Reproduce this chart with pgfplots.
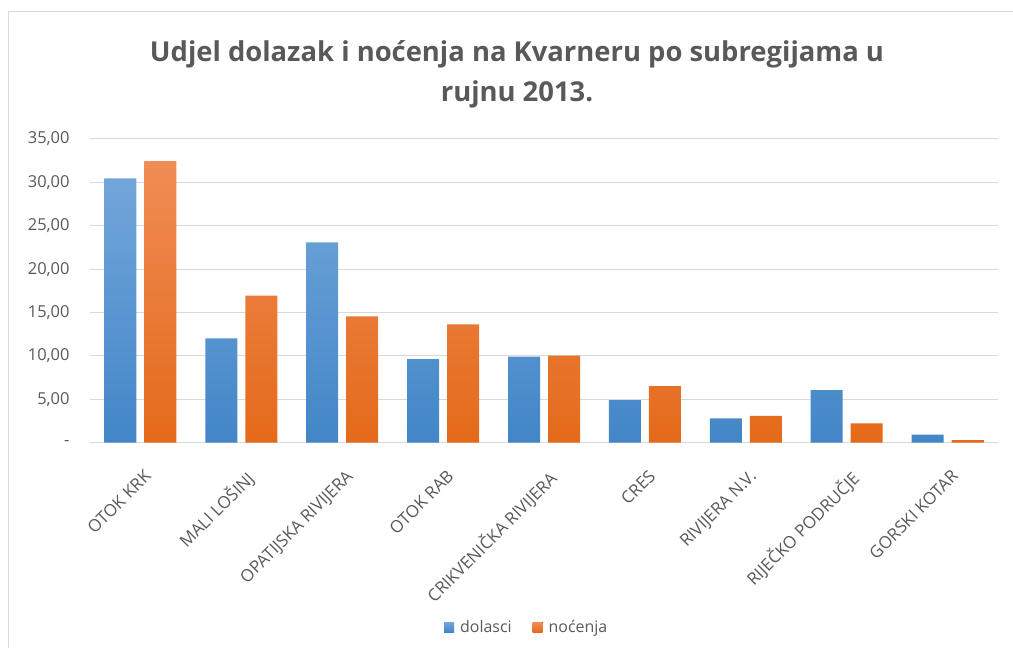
\documentclass[border=0pt]{standalone}
\usepackage{fontspec}
\setmainfont{Open Sans}
\usepackage{pgfplots}
\pgfplotsset{compat=1.18}
\usepackage{pgfplotstable}
\definecolor{txt}{HTML}{595959}
\definecolor{gridc}{HTML}{D9D9D9}
\definecolor{bTop}{HTML}{72A6DB}
\definecolor{bMid}{HTML}{569CDC}
\definecolor{bBot}{HTML}{4286C7}
\definecolor{oTop}{HTML}{F08C55}
\definecolor{oMid}{HTML}{F27D2A}
\definecolor{oBot}{HTML}{E46A1A}
\pgfplotstableread{
x dolasci nocenja
0 30.46 32.45
1 12.03 16.94
2 23.09 14.56
3 9.64 13.64
4 9.91 10.02
5 4.92 6.53
6 2.81 3.08
7 6.07 2.23
8 0.92 0.31
}\datatable
\begin{document}
\begin{tikzpicture}[x=1bp,y=1bp]
\useasboundingbox (0,0) rectangle (1013,648);
\draw[gridc, line width=1bp] (8.5,0) -- (8.5,636) -- (1013,636);
\node[align=center, text=txt, font=\fontsize{27.5}{40}\selectfont\bfseries] at (517,574)
  {Udjel dolazak i noćenja na Kvarneru po subregijama u\\rujnu 2013.};
\begin{axis}[
  at={(90bp,205.3bp)}, anchor=south west,
  scale only axis, width=908bp, height=303.7bp,
  xmin=-0.5, xmax=8.5, ymin=0, ymax=35,
  ybar=8bp, bar width=32bp,
  axis x line*=bottom, axis y line*=left,
  y axis line style={draw=none},
  x axis line style={gridc, line width=1.3bp, -},
  ymajorgrids, xmajorgrids=false, grid style={gridc, line width=1bp},
  major tick length=0pt,
  ytick={0,5,10,15,20,25,30,35},
  yticklabels={{-},{5,00},{10,00},{15,00},{20,00},{25,00},{30,00},{35,00}},
  yticklabel style={text=txt, font=\fontsize{16.5}{20}\selectfont, xshift=-17bp},
  xtick=data,
  xticklabels={OTOK KRK, MALI LOŠINJ, OPATIJSKA RIVIJERA, OTOK RAB, CRIKVENIČKA RIVIJERA, CRES, RIVIJERA N.V., RIJEČKO PODRUČJE, GORSKI KOTAR},
  xticklabel style={text=txt, font=\fontsize{17}{20}\selectfont, rotate=45, anchor=north east, yshift=-17bp, xshift=-13bp},
  legend style={at={(0.481,-0.607)}, anchor=center, draw=none, fill=none,
    legend columns=2, font=\fontsize{16}{20}\selectfont, text=txt,
    /tikz/every odd column/.style={column sep=4bp},
    /tikz/every even column/.style={column sep=19bp}},
  legend image code/.code={\fill[#1] (0bp,-5bp) rectangle (10bp,5bp);},
]
\addplot[draw=none, top color=bTop, middle color=bMid, bottom color=bBot] table[x=x,y=dolasci]{\datatable};
\addplot[draw=none, top color=oTop, middle color=oMid, bottom color=oBot] table[x=x,y=nocenja]{\datatable};
\legend{dolasci, noćenja}
\end{axis}
\end{tikzpicture}
\end{document}
